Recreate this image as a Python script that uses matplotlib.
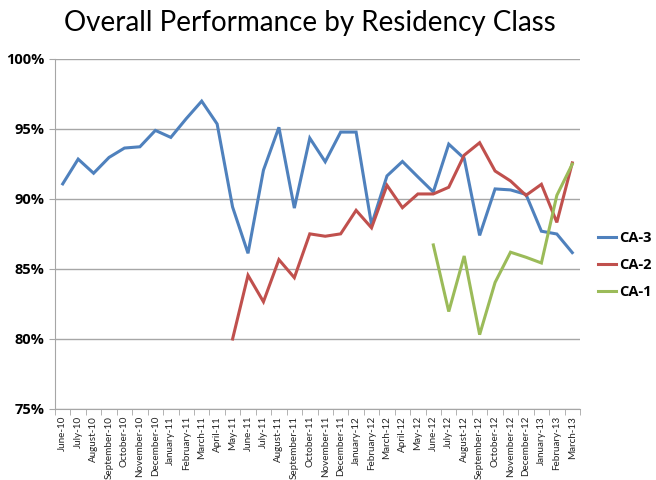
import numpy as np
import matplotlib.pyplot as plt
from matplotlib.ticker import FuncFormatter, FixedLocator

# ===== DATA =====
months = [
    'June-10', 'July-10', 'August-10', 'September-10', 'October-10', 'November-10',
    'December-10', 'January-11', 'February-11', 'March-11', 'April-11', 'May-11',
    'June-11', 'July-11', 'August-11', 'September-11', 'October-11', 'November-11',
    'December-11', 'January-12', 'February-12', 'March-12', 'April-12', 'May-12',
    'June-12', 'July-12', 'August-12', 'September-12', 'October-12', 'November-12',
    'December-12', 'January-13', 'February-13', 'March-13',
]

ca3 = [91.08, 92.85, 91.84, 92.97, 93.64, 93.73, 94.90, 94.40, 95.74, 96.99,
       95.36, 89.43, 86.12, 92.06, 95.12, 89.35, 94.35, 92.66, 94.78, 94.78,
       88.16, 91.65, 92.68, 91.58, 90.50, 93.92, 92.90, 87.40, 90.72, 90.65,
       90.33, 87.70, 87.50, 86.17]

# CA-2 starts at May-11
ca2 = [None] * 11 + [80.00, 84.55, 82.66, 85.67, 84.38, 87.51, 87.34, 87.51, 89.19,
                     87.94, 90.98, 89.38, 90.36, 90.36, 90.84, 93.13, 94.02, 92.00,
                     91.29, 90.26, 91.05, 88.33, 92.58]

# CA-1 starts at June-12
ca1 = [None] * 24 + [86.72, 81.96, 85.93, 80.31, 84.04, 86.20, 85.84, 85.43,
                     90.26, 92.49]

series = [('CA-3', ca3, '#4F81BD'), ('CA-2', ca2, '#C0504D'), ('CA-1', ca1, '#9BBB59')]

# ===== PLOT =====
plt.rcParams['font.family'] = ['Lato', 'DejaVu Sans']

fig = plt.figure(figsize=(6.56, 4.8), dpi=100)
ax = fig.add_axes([55 / 656, 1 - 409 / 480, 525 / 656, 350 / 480])

x = np.arange(len(months))
for name, vals, color in series:
    y = np.array([np.nan if v is None else v for v in vals], dtype=float)
    ax.plot(x, y, color=color, linewidth=2.2, label=name, solid_joinstyle='miter')

ax.set_xlim(-0.5, len(months) - 0.5)
ax.set_ylim(75, 100)
ax.set_yticks([75, 80, 85, 90, 95, 100])
ax.yaxis.set_major_formatter(FuncFormatter(lambda v, p: f'{v:.0f}%'))
ax.grid(axis='y', color='#a6a6a6', linewidth=1)
ax.set_axisbelow(True)

ax.set_xticks(x)
ax.set_xticklabels(months, rotation=90, fontsize=7.1, color='#222222')
ax.xaxis.set_minor_locator(FixedLocator(np.arange(-0.5, len(months), 1.0)))
ax.tick_params(axis='x', which='major', length=0, pad=5)
ax.tick_params(axis='x', which='minor', length=4, color='#a6a6a6')
ax.tick_params(axis='y', length=4, color='#a6a6a6', labelsize=10.5)
for lbl in ax.get_yticklabels():
    lbl.set_family(['Open Sans', 'DejaVu Sans'])
    lbl.set_fontweight('bold')

for side in ['top', 'right']:
    ax.spines[side].set_visible(False)
for side in ['left', 'bottom']:
    ax.spines[side].set_color('#a6a6a6')

fig.text(0.472, 0.953, 'Overall Performance by Residency Class', ha='center', va='center',
         fontsize=20)

leg = fig.legend(loc='center left', bbox_to_anchor=(585 / 656, 1 - 265 / 480), frameon=False,
                 handlelength=1.2, handletextpad=0.25, labelspacing=0.9,
                 prop={'family': ['Open Sans', 'DejaVu Sans'], 'weight': 'bold', 'size': 10.5})

fig.savefig('out.png', dpi=100)
